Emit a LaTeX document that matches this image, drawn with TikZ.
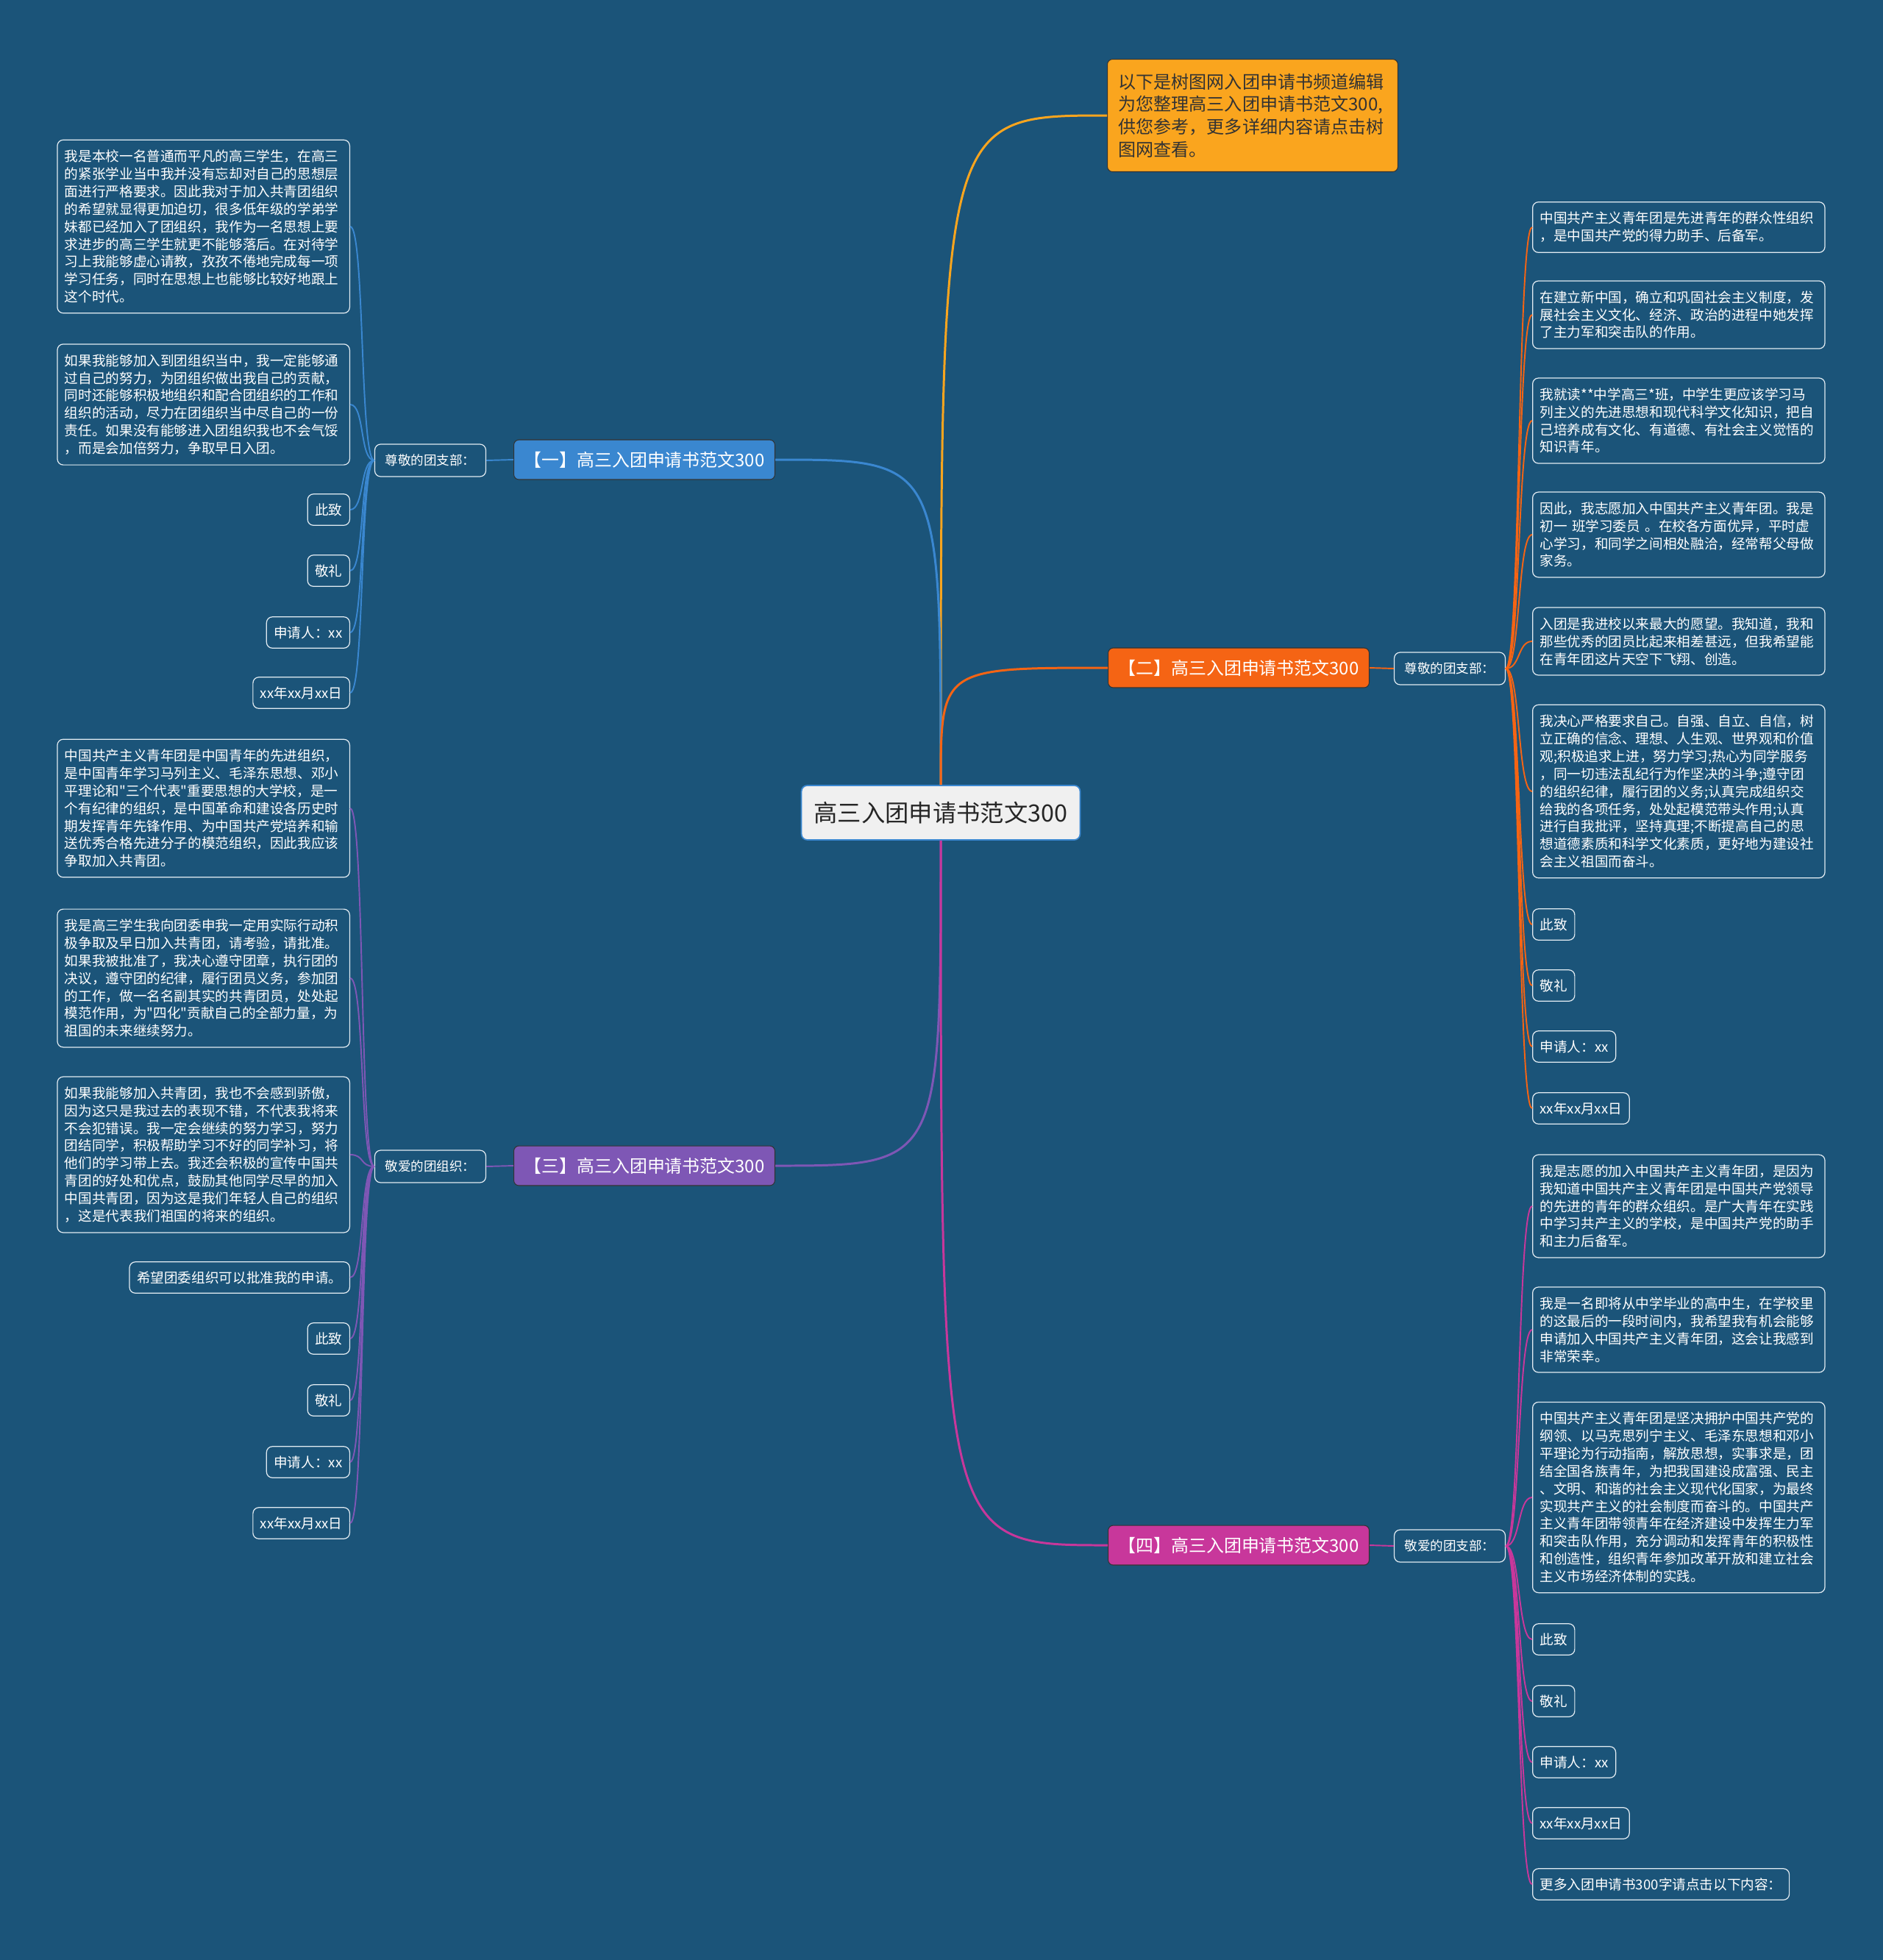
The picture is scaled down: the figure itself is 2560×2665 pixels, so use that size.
\documentclass[tikz,border=0pt]{standalone}
\usepackage{fontspec}
\setmainfont[Ligatures=TeXOff]{Noto Sans CJK SC}
\usetikzlibrary{positioning}

\definecolor{bgblue}{RGB}{27,84,121}
\definecolor{topicgray}{RGB}{240,240,240}
\definecolor{oneblue}{RGB}{58,135,208}
\definecolor{twored}{RGB}{245,100,20}
\definecolor{threepurple}{RGB}{126,87,181}
\definecolor{fourpink}{RGB}{200,55,155}
\definecolor{noteorange}{RGB}{250,165,30}
\definecolor{leafline}{RGB}{225,235,242}

\begin{document}
\begin{tikzpicture}[x=0.02cm,y=-0.02cm,
  leafbox/.style={draw=leafline,line width=0.7pt,rounded corners=0.16cm,fill=bgblue,text=white,
    font=\fontsize{10.6}{13.6}\selectfont,align=left,text width=7.55cm,inner xsep=0.2cm,inner ysep=0.27cm},
  tagbox/.style={draw=leafline,line width=0.7pt,rounded corners=0.16cm,fill=bgblue,text=white,
    font=\fontsize{10.6}{13.6}\selectfont,inner xsep=0.2cm,inner ysep=0.1cm,minimum height=0.85cm},
  subbox/.style={draw=leafline,line width=0.7pt,rounded corners=0.16cm,fill=bgblue,text=white,
    font=\fontsize{10}{12}\selectfont,minimum width=3.02cm,minimum height=0.88cm},
  branchbox/.style={draw=black!80,line width=0.6pt,rounded corners=0.14cm,text=white,
    font=\fontsize{13.6}{16}\selectfont,minimum width=7.1cm,minimum height=1.08cm},
  link/.style={line width=1.1pt},
  mainlink/.style={line width=1.7pt}]

\useasboundingbox[fill=bgblue] (0,0) rectangle (2560,2665);

% 中心
\node[draw=oneblue,line width=1pt,fill=topicgray,rounded corners=0.16cm,text=black!85,
  font=\fontsize{18.4}{22}\selectfont,minimum width=7.58cm,minimum height=1.48cm] (center) at (1279,1105) {高三入团申请书范文300};

% 说明
\node[draw=black!80,line width=0.6pt,fill=noteorange,rounded corners=0.14cm,text=black!80,
  font=\fontsize{13.7}{17.4}\selectfont,align=left,text width=7.3cm,inner xsep=0.3cm,inner ysep=0.2cm,
  minimum height=3.06cm,anchor=north west] (note) at (1505,80)
  {以下是树图网入团申请书频道编辑\\为您整理高三入团申请书范文300,\\供您参考，更多详细内容请点击树\\图网查看。};

% 四个分支
\node[branchbox,fill=oneblue] (b1) at (876,625) {【一】高三入团申请书范文300};
\node[branchbox,fill=twored] (b2) at (1684,908) {【二】高三入团申请书范文300};
\node[branchbox,fill=threepurple] (b3) at (876,1585) {【三】高三入团申请书范文300};
\node[branchbox,fill=fourpink] (b4) at (1684,2101) {【四】高三入团申请书范文300};

\node[subbox] (s1) at (585,626) {尊敬的团支部：};
\node[subbox] (s2) at (1971,909) {尊敬的团支部：};
\node[subbox] (s3) at (585,1586) {敬爱的团组织：};
\node[subbox] (s4) at (1971,2102) {敬爱的团支部：};

% 分支一
\node[leafbox,anchor=east] (b1a) at (476,308) {我是本校一名普通而平凡的高三学生，在高三\\的紧张学业当中我并没有忘却对自己的思想层\\面进行严格要求。因此我对于加入共青团组织\\的希望就显得更加迫切，很多低年级的学弟学\\妹都已经加入了团组织，我作为一名思想上要\\求进步的高三学生就更不能够落后。在对待学\\习上我能够虚心请教，孜孜不倦地完成每一项\\学习任务，同时在思想上也能够比较好地跟上\\这个时代。};
\node[leafbox,anchor=east] (b1b) at (476,550) {如果我能够加入到团组织当中，我一定能够通\\过自己的努力，为团组织做出我自己的贡献，\\同时还能够积极地组织和配合团组织的工作和\\组织的活动，尽力在团组织当中尽自己的一份\\责任。如果没有能够进入团组织我也不会气馁\\，而是会加倍努力，争取早日入团。};
\node[tagbox,anchor=east] (b1c) at (476,693) {此致};
\node[tagbox,anchor=east] (b1d) at (476,776) {敬礼};
\node[tagbox,anchor=east] (b1e) at (476,860) {申请人：xx};
\node[tagbox,anchor=east] (b1f) at (476,942) {xx年xx月xx日};

% 分支二
\node[leafbox,anchor=west] (b2a) at (2083,309) {中国共产主义青年团是先进青年的群众性组织\\，是中国共产党的得力助手、后备军。};
\node[leafbox,anchor=west] (b2b) at (2083,428) {在建立新中国，确立和巩固社会主义制度，发\\展社会主义文化、经济、政治的进程中她发挥\\了主力军和突击队的作用。};
\node[leafbox,anchor=west] (b2c) at (2083,572) {我就读**中学高三*班，中学生更应该学习马\\列主义的先进思想和现代科学文化知识，把自\\己培养成有文化、有道德、有社会主义觉悟的\\知识青年。};
\node[leafbox,anchor=west] (b2d) at (2083,727) {因此，我志愿加入中国共产主义青年团。我是\\初一 班学习委员 。在校各方面优异，平时虚\\心学习，和同学之间相处融洽，经常帮父母做\\家务。};
\node[leafbox,anchor=west] (b2e) at (2083,872) {入团是我进校以来最大的愿望。我知道，我和\\那些优秀的团员比起来相差甚远，但我希望能\\在青年团这片天空下飞翔、创造。};
\node[leafbox,anchor=west] (b2f) at (2083,1076) {我决心严格要求自己。自强、自立、自信，树\\立正确的信念、理想、人生观、世界观和价值\\观;积极追求上进，努力学习;热心为同学服务\\，同一切违法乱纪行为作坚决的斗争;遵守团\\的组织纪律，履行团的义务;认真完成组织交\\给我的各项任务，处处起模范带头作用;认真\\进行自我批评，坚持真理;不断提高自己的思\\想道德素质和科学文化素质，更好地为建设社\\会主义祖国而奋斗。};
\node[tagbox,anchor=west] (b2g) at (2083,1257) {此致};
\node[tagbox,anchor=west] (b2h) at (2083,1340) {敬礼};
\node[tagbox,anchor=west] (b2i) at (2083,1423) {申请人：xx};
\node[tagbox,anchor=west] (b2j) at (2083,1507) {xx年xx月xx日};

% 分支三
\node[leafbox,anchor=east] (b3a) at (476,1099) {中国共产主义青年团是中国青年的先进组织，\\是中国青年学习马列主义、毛泽东思想、邓小\\平理论和"三个代表"重要思想的大学校，是一\\个有纪律的组织，是中国革命和建设各历史时\\期发挥青年先锋作用、为中国共产党培养和输\\送优秀合格先进分子的模范组织，因此我应该\\争取加入共青团。};
\node[leafbox,anchor=east] (b3b) at (476,1330) {我是高三学生我向团委申我一定用实际行动积\\极争取及早日加入共青团，请考验，请批准。\\如果我被批准了，我决心遵守团章，执行团的\\决议，遵守团的纪律，履行团员义务，参加团\\的工作，做一名名副其实的共青团员，处处起\\模范作用，为"四化"贡献自己的全部力量，为\\祖国的未来继续努力。};
\node[leafbox,anchor=east] (b3c) at (476,1570) {如果我能够加入共青团，我也不会感到骄傲，\\因为这只是我过去的表现不错，不代表我将来\\不会犯错误。我一定会继续的努力学习，努力\\团结同学，积极帮助学习不好的同学补习，将\\他们的学习带上去。我还会积极的宣传中国共\\青团的好处和优点，鼓励其他同学尽早的加入\\中国共青团，因为这是我们年轻人自己的组织\\，这是代表我们祖国的将来的组织。};
\node[tagbox,anchor=east] (b3d) at (476,1737) {希望团委组织可以批准我的申请。};
\node[tagbox,anchor=east] (b3e) at (476,1820) {此致};
\node[tagbox,anchor=east] (b3f) at (476,1904) {敬礼};
\node[tagbox,anchor=east] (b3g) at (476,1988) {申请人：xx};
\node[tagbox,anchor=east] (b3h) at (476,2071) {xx年xx月xx日};

% 分支四
\node[leafbox,anchor=west] (b4a) at (2083,1640) {我是志愿的加入中国共产主义青年团，是因为\\我知道中国共产主义青年团是中国共产党领导\\的先进的青年的群众组织。是广大青年在实践\\中学习共产主义的学校，是中国共产党的助手\\和主力后备军。};
\node[leafbox,anchor=west] (b4b) at (2083,1808) {我是一名即将从中学毕业的高中生，在学校里\\的这最后的一段时间内，我希望我有机会能够\\申请加入中国共产主义青年团，这会让我感到\\非常荣幸。};
\node[leafbox,anchor=west] (b4c) at (2083,2036) {中国共产主义青年团是坚决拥护中国共产党的\\纲领、以马克思列宁主义、毛泽东思想和邓小\\平理论为行动指南，解放思想，实事求是，团\\结全国各族青年，为把我国建设成富强、民主\\、文明、和谐的社会主义现代化国家，为最终\\实现共产主义的社会制度而奋斗的。中国共产\\主义青年团带领青年在经济建设中发挥生力军\\和突击队作用，充分调动和发挥青年的积极性\\和创造性，组织青年参加改革开放和建立社会\\主义市场经济体制的实践。};
\node[tagbox,anchor=west] (b4d) at (2083,2229) {此致};
\node[tagbox,anchor=west] (b4e) at (2083,2313) {敬礼};
\node[tagbox,anchor=west] (b4f) at (2083,2396) {申请人：xx};
\node[tagbox,anchor=west] (b4g) at (2083,2479) {xx年xx月xx日};
\node[tagbox,anchor=west] (b4h) at (2083,2562) {更多入团申请书300字请点击以下内容：};

% 主干连线
\draw[mainlink,noteorange] (center.north) .. controls (center.north |- note.west) .. (note.west);
\draw[mainlink,oneblue] (center.north) .. controls (center.north |- b1.east) .. (b1.east);
\draw[mainlink,twored] (center.north) .. controls (center.north |- b2.west) .. (b2.west);
\draw[mainlink,threepurple] (center.south) .. controls (center.south |- b3.east) .. (b3.east);
\draw[mainlink,fourpink] (center.south) .. controls (center.south |- b4.west) .. (b4.west);

\draw[link,oneblue] (b1.west) -- (s1.east);
\draw[link,twored] (b2.east) -- (s2.west);
\draw[link,threepurple] (b3.west) -- (s3.east);
\draw[link,fourpink] (b4.east) -- (s4.west);

% 分支一的叶子
\draw[link,oneblue] (s1.west) .. controls +(-20,0) and +(20,0) .. (b1a.east);
\draw[link,oneblue] (s1.west) .. controls +(-20,0) and +(20,0) .. (b1b.east);
\draw[link,oneblue] (s1.west) .. controls +(-20,0) and +(20,0) .. (b1c.east);
\draw[link,oneblue] (s1.west) .. controls +(-20,0) and +(20,0) .. (b1d.east);
\draw[link,oneblue] (s1.west) .. controls +(-20,0) and +(20,0) .. (b1e.east);
\draw[link,oneblue] (s1.west) .. controls +(-20,0) and +(20,0) .. (b1f.east);

% 分支二的叶子
\draw[link,twored] (s2.east) .. controls +(20,0) and +(-20,0) .. (b2a.west);
\draw[link,twored] (s2.east) .. controls +(20,0) and +(-20,0) .. (b2b.west);
\draw[link,twored] (s2.east) .. controls +(20,0) and +(-20,0) .. (b2c.west);
\draw[link,twored] (s2.east) .. controls +(20,0) and +(-20,0) .. (b2d.west);
\draw[link,twored] (s2.east) .. controls +(20,0) and +(-20,0) .. (b2e.west);
\draw[link,twored] (s2.east) .. controls +(20,0) and +(-20,0) .. (b2f.west);
\draw[link,twored] (s2.east) .. controls +(20,0) and +(-20,0) .. (b2g.west);
\draw[link,twored] (s2.east) .. controls +(20,0) and +(-20,0) .. (b2h.west);
\draw[link,twored] (s2.east) .. controls +(20,0) and +(-20,0) .. (b2i.west);
\draw[link,twored] (s2.east) .. controls +(20,0) and +(-20,0) .. (b2j.west);

% 分支三的叶子
\draw[link,threepurple] (s3.west) .. controls +(-20,0) and +(20,0) .. (b3a.east);
\draw[link,threepurple] (s3.west) .. controls +(-20,0) and +(20,0) .. (b3b.east);
\draw[link,threepurple] (s3.west) .. controls +(-20,0) and +(20,0) .. (b3c.east);
\draw[link,threepurple] (s3.west) .. controls +(-20,0) and +(20,0) .. (b3d.east);
\draw[link,threepurple] (s3.west) .. controls +(-20,0) and +(20,0) .. (b3e.east);
\draw[link,threepurple] (s3.west) .. controls +(-20,0) and +(20,0) .. (b3f.east);
\draw[link,threepurple] (s3.west) .. controls +(-20,0) and +(20,0) .. (b3g.east);
\draw[link,threepurple] (s3.west) .. controls +(-20,0) and +(20,0) .. (b3h.east);

% 分支四的叶子
\draw[link,fourpink] (s4.east) .. controls +(20,0) and +(-20,0) .. (b4a.west);
\draw[link,fourpink] (s4.east) .. controls +(20,0) and +(-20,0) .. (b4b.west);
\draw[link,fourpink] (s4.east) .. controls +(20,0) and +(-20,0) .. (b4c.west);
\draw[link,fourpink] (s4.east) .. controls +(20,0) and +(-20,0) .. (b4d.west);
\draw[link,fourpink] (s4.east) .. controls +(20,0) and +(-20,0) .. (b4e.west);
\draw[link,fourpink] (s4.east) .. controls +(20,0) and +(-20,0) .. (b4f.west);
\draw[link,fourpink] (s4.east) .. controls +(20,0) and +(-20,0) .. (b4g.west);
\draw[link,fourpink] (s4.east) .. controls +(20,0) and +(-20,0) .. (b4h.west);

\end{tikzpicture}
\end{document}
